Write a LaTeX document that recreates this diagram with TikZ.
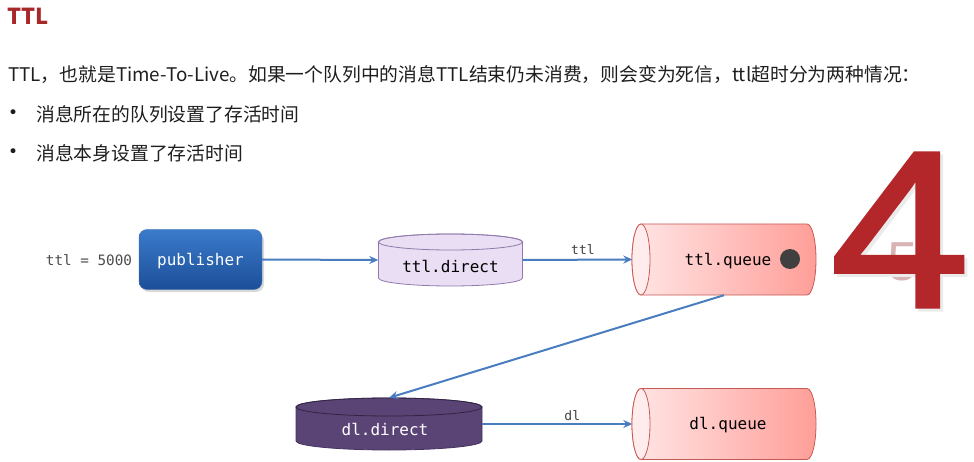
\documentclass[tikz,border=0pt]{standalone}
\usepackage{fontspec}
\newfontfamily\cjk{Noto Sans CJK SC}
\newfontfamily\mono{DejaVu Sans Mono}
\newfontfamily\bigsans{Liberation Sans}
\newfontfamily\bigfour[FakeBold=1.5]{Liberation Sans}
\newfontfamily\dejavu{DejaVu Sans}
\usetikzlibrary{arrows.meta,backgrounds}
\definecolor{titlered}{HTML}{A8282A}
\definecolor{txt}{HTML}{1E1E1E}
\definecolor{arrowblue}{HTML}{4A7CC0}
\definecolor{pubtop}{HTML}{3A7BCB}
\definecolor{pubbot}{HTML}{1D4E98}
\definecolor{exlight}{HTML}{E9DEF3}
\definecolor{exborder}{HTML}{8F7AAB}
\definecolor{exdark}{HTML}{5A4476}
\definecolor{exdarkb}{HTML}{463460}
\definecolor{qleft}{HTML}{FFE6E6}
\definecolor{qright}{HTML}{FF9E98}
\definecolor{qborder}{HTML}{C85A55}
\definecolor{bigred}{HTML}{B3272A}
\definecolor{fivecol}{HTML}{D9B4B4}
\begin{document}
\begin{tikzpicture}[x=1pt,y=-1pt,
  conn/.style={draw=arrowblue,line width=2pt,-{Stealth[length=9pt,width=8pt]}},
  lbl/.style={font=\mono\fontsize{13}{13}\selectfont,text=black!75},
  monotext/.style={font=\mono\fontsize{16}{16}\selectfont},
  qbox/.style={minimum width=183pt,minimum height=71pt,inner sep=0pt,monotext,text=black},
  exbox/.style={inner sep=0pt,monotext},
  cjktext/.style={anchor=west,inner sep=0pt,text=txt},
  digit/.style={font=\bigfour\fontsize{224}{224}\selectfont,xscale=1.12,transform shape}]
\useasboundingbox (0,0) rectangle (974,462);

% texts
\node[cjktext,text=titlered,font=\cjk\bfseries\fontsize{22}{22}\selectfont] (title) at (7,16) {TTL};
\node[cjktext,font=\cjk\fontsize{18.8}{18.8}\selectfont] (line1) at (8,75) {TTL，也就是Time-To-Live。如果一个队列中的消息TTL结束仍未消费，则会变为死信，ttl超时分为两种情况：};
\node[cjktext,font=\dejavu\fontsize{17}{17}\selectfont] (b1) at (8,114) {•};
\node[cjktext,font=\cjk\fontsize{18.8}{18.8}\selectfont] (t1) at (36,114) {消息所在的队列设置了存活时间};
\node[cjktext,font=\dejavu\fontsize{17}{17}\selectfont] (b2) at (8,153) {•};
\node[cjktext,font=\cjk\fontsize{18.8}{18.8}\selectfont] (t2) at (36,153) {消息本身设置了存活时间};

% big countdown digit
\node[font=\bigsans\fontsize{55}{55}\selectfont,text=fivecol] (five) at (903,262) {5};
\node[digit,text=black!8] (fourshadow) at (903,233) {4};
\node[digit,text=bigred] (four) at (900,230) {4};

% ttl = 5000
\node[lbl,font=\mono\fontsize{14.3}{14.3}\selectfont,text=black!70] (ttlval) at (89,260) {ttl = 5000};

% publisher
\fill[black!15,rounded corners=8pt] (141,233) rectangle (264,292);
\node[draw=pubbot!80,rounded corners=8pt,top color=pubtop,bottom color=pubbot,
  minimum width=123pt,minimum height=60pt,inner sep=0pt,monotext,text=white] (pub) at (200.5,259.5) {};
\node[monotext,text=white] at (200.5,261) {publisher};

% ttl.direct (vertical cylinder)
\filldraw[fill=exlight,draw=exborder,line width=0.8pt]
  (378.5,242) -- (378.5,278) arc (180:0:72 and 8) -- (522.5,242) arc (0:-180:72 and 8) -- cycle;
\draw[exborder,line width=0.8pt] (450.5,242) ellipse (72 and 8);
\node[exbox,minimum width=144pt,minimum height=52pt] (ttldir) at (450.5,260) {};
\node[monotext,text=black] at (450.5,266) {ttl.direct};

% ttl.queue (horizontal cylinder)
\shade[left color=qleft,right color=qright,draw=qborder,line width=0.8pt]
  (641,224) -- (807,224) arc (-90:90:9 and 35.5) -- (641,295) arc (90:270:9 and 35.5) -- cycle;
\filldraw[fill=qleft!70!white,draw=qborder,line width=0.8pt] (641,259.5) ellipse (9 and 35.5);
\node[qbox] (ttlq) at (724,259.5) {};
\node[monotext,text=black] at (728,261) {ttl.queue};
\fill[black!75] (790,259) circle (10);

% dl.direct (dark vertical cylinder)
\filldraw[fill=exdark,draw=exdarkb,line width=0.8pt]
  (296,407) -- (296,441) arc (180:0:93 and 9) -- (482,407) arc (0:-180:93 and 9) -- cycle;
\draw[black!45!exdark,line width=0.8pt] (389,407) ellipse (93 and 9);
\node[exbox,minimum width=186pt,minimum height=52pt] (dldir) at (389,424) {};
\node[monotext,text=white] at (385,429) {dl.direct};

% dl.queue
\shade[left color=qleft,right color=qright,draw=qborder,line width=0.8pt]
  (641,388.5) -- (807,388.5) arc (-90:90:9 and 35.5) -- (641,459.5) arc (90:270:9 and 35.5) -- cycle;
\filldraw[fill=qleft!70!white,draw=qborder,line width=0.8pt] (641,424) ellipse (9 and 35.5);
\node[qbox] (dlq) at (724,424) {};
\node[monotext,text=black] at (728,425) {dl.queue};

% connectors
\draw[conn] (pub.east) -- (ttldir.west);
\draw[conn] (ttldir.east) -- node[lbl,above=1pt,pos=0.55] (lttl) {ttl} (ttlq.west);
\draw[conn] (dldir.east) -- node[lbl,above=-1pt,pos=0.6] (ldl) {dl} (dlq.west);
\draw[conn] (ttlq.south) -- (dldir.north);
\end{tikzpicture}
\end{document}
